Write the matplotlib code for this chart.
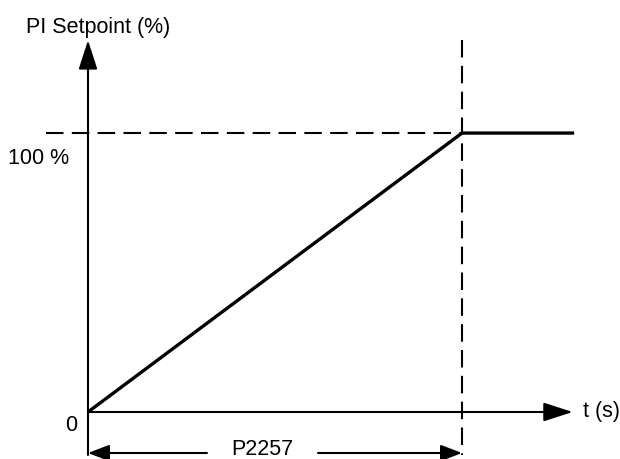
import numpy as np
import matplotlib
matplotlib.use("Agg")
import matplotlib.pyplot as plt

# Data: PI setpoint ramp (time in units of the ramp time P2257)
ramp_time = [0.0, 1.0, 1.30]
setpoint = [0.0, 100.0, 100.0]
ramp_end = 1.0          # P2257
setpoint_full = 100.0   # 100 %

# Diagram extents (data units)
x_min, x_max = -0.2353, 1.4225
y_min, y_max = -16.85, 147.7
y_axis_bottom = -15.4
y_axis_top = 133.3
x_axis_end = 1.296
dash_left = -0.112
dim_y = -14.7            # height of the P2257 dimension arrow
dim_gap = [0.318, 0.615]  # gap for the label

plt.rcParams['font.family'] = ['Liberation Sans', 'DejaVu Sans']
fig = plt.figure(figsize=(6.2, 4.59), dpi=100)
ax = fig.add_axes([0, 0, 1, 1])
ax.set_xlim(x_min, x_max)
ax.set_ylim(y_min, y_max)
ax.axis('off')

lw_axis = 1.5
dash = (0, (8.4, 4.0))

# Axes with arrow heads
arrow = dict(arrowstyle='-|>,head_length=18,head_width=5.8', mutation_scale=1,
             lw=lw_axis, color='black', shrinkA=0, shrinkB=0)
ax.annotate('', xy=(0, y_axis_top), xytext=(0, y_axis_bottom), arrowprops=arrow)
ax.annotate('', xy=(x_axis_end, 0), xytext=(0, 0), arrowprops=arrow)

# Dashed guide lines
ax.plot([dash_left, ramp_end], [setpoint_full, setpoint_full], color='black', lw=lw_axis, linestyle=dash)
ax.plot([ramp_end, ramp_end], [y_axis_top, y_axis_bottom], color='black', lw=lw_axis, linestyle=dash)

# Ramp
ax.plot(ramp_time, setpoint, color='black', lw=2.4, solid_capstyle='butt')

# P2257 dimension arrows
dim_arrow = dict(arrowstyle='-|>,head_length=13,head_width=5', mutation_scale=1,
                 lw=lw_axis, color='black', shrinkA=0, shrinkB=0)
ax.annotate('', xy=(0, dim_y), xytext=(dim_gap[0], dim_y), arrowprops=dim_arrow)
ax.annotate('', xy=(ramp_end, dim_y), xytext=(dim_gap[1], dim_y), arrowprops=dim_arrow)

# Texts
fs = 15.5
ax.text(-0.166, 138, 'PI Setpoint (%)', fontsize=fs, ha='left', va='center')
ax.text(-0.214, 90.7, '100 %', fontsize=fs, ha='left', va='center')
ax.text(-0.045, -4.8, '0', fontsize=fs, ha='center', va='center')
ax.text(1.3235, 0, 't (s)', fontsize=fs, ha='left', va='center')
ax.text(np.mean(dim_gap) - 0.0, -13.6, 'P2257', fontsize=fs, ha='center', va='center')

fig.savefig('out.png', dpi=100)
